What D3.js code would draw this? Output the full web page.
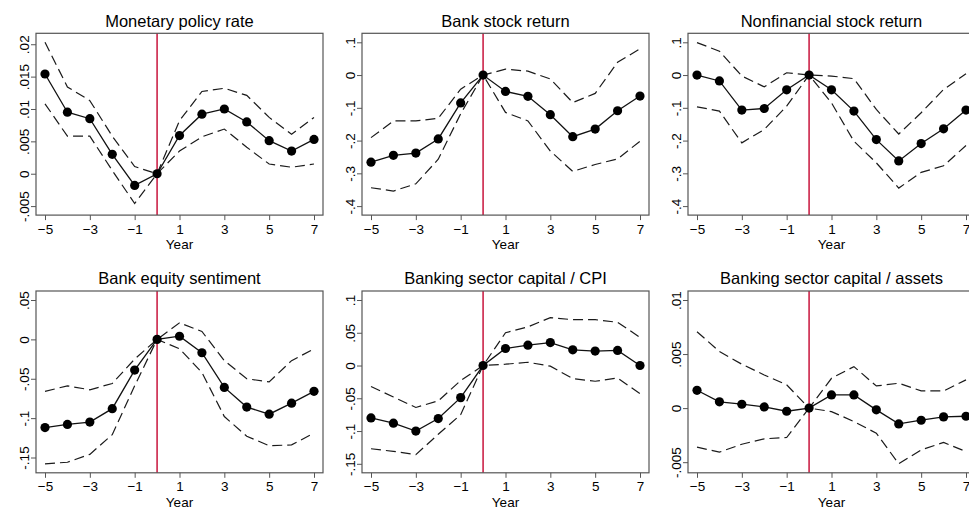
<!DOCTYPE html>
<html>
<head>
<meta charset="utf-8">
<script src="https://cdn.jsdelivr.net/npm/d3@7"></script>
<style>
  body { margin: 0; background: #fff; }
  svg { display: block; font-family: "Liberation Sans", Arial, Helvetica, sans-serif; }
</style>
</head>
<body>
<svg width="969" height="510"></svg>
<script>
// event years
let years = [-5, -4, -3, -2, -1, 0, 1, 2, 3, 4, 5, 6, 7];
let xTicks = [-5, -3, -1, 1, 3, 5, 7];

let titles = [
    'Monetary policy rate',
    'Bank stock return',
    'Nonfinancial stock return',
    'Bank equity sentiment',
    'Banking sector capital / CPI',
    'Banking sector capital / assets'
];

// point estimates
let estRate      = [0.0154, 0.0095, 0.0085, 0.0030, -0.0018, 0, 0.0059, 0.0092, 0.0100, 0.0080, 0.0051, 0.0035, 0.0053];
let estBank      = [-0.266, -0.245, -0.238, -0.195, -0.085, 0, -0.050, -0.065, -0.121, -0.188, -0.165, -0.109, -0.064];
let estNonfin    = [0.000, -0.018, -0.107, -0.102, -0.045, 0, -0.045, -0.110, -0.197, -0.262, -0.209, -0.164, -0.107];
let estSentiment = [-0.112, -0.108, -0.105, -0.088, -0.039, 0, 0.004, -0.017, -0.061, -0.086, -0.095, -0.081, -0.066];
let estCapCpi    = [-0.080, -0.088, -0.100, -0.081, -0.049, 0, 0.026, 0.031, 0.035, 0.024, 0.022, 0.023, 0.000];
let estCapAssets = [0.00165, 0.00058, 0.00036, 0.00011, -0.00029, 0, 0.00122, 0.00122, -0.00016, -0.00146, -0.00112, -0.00081, -0.00075];

// upper confidence bands
let hiRate      = [0.0203, 0.0134, 0.0113, 0.0058, 0.0011, 0, 0.0082, 0.0127, 0.0132, 0.0121, 0.0087, 0.0061, 0.0087];
let hiBank      = [-0.191, -0.140, -0.140, -0.132, -0.043, 0, 0.018, 0.012, -0.012, -0.084, -0.056, 0.039, 0.080];
let hiNonfin    = [0.099, 0.073, -0.003, -0.036, 0.007, 0, -0.003, -0.011, -0.105, -0.180, -0.115, -0.044, 0.004];
let hiSentiment = [-0.066, -0.059, -0.064, -0.056, -0.025, 0, 0.021, 0.010, -0.027, -0.050, -0.054, -0.027, -0.012];
let hiCapCpi    = [-0.032, -0.048, -0.064, -0.054, -0.023, 0, 0.050, 0.059, 0.073, 0.070, 0.070, 0.066, 0.043];
let hiCapAssets = [0.00707, 0.00523, 0.00406, 0.00307, 0.00215, 0, 0.00276, 0.00384, 0.00205, 0.00230, 0.00159, 0.00159, 0.00261];

// lower confidence bands
let loRate      = [0.0108, 0.0058, 0.0058, 0.0005, -0.0046, 0, 0.0035, 0.0057, 0.0069, 0.0041, 0.0015, 0.0010, 0.0015];
let loBank      = [-0.344, -0.354, -0.332, -0.257, -0.118, 0, -0.114, -0.140, -0.232, -0.294, -0.273, -0.256, -0.202];
let loNonfin    = [-0.097, -0.110, -0.207, -0.166, -0.095, 0, -0.085, -0.202, -0.268, -0.345, -0.297, -0.277, -0.215];
let loSentiment = [-0.158, -0.156, -0.146, -0.121, -0.059, 0, -0.012, -0.042, -0.098, -0.123, -0.135, -0.134, -0.119];
let loCapCpi    = [-0.127, -0.131, -0.136, -0.105, -0.075, 0, 0.002, 0.005, -0.001, -0.020, -0.024, -0.019, -0.043];
let loCapAssets = [-0.00361, -0.00407, -0.00334, -0.00284, -0.00272, 0, -0.00032, -0.00124, -0.00232, -0.00515, -0.00386, -0.00318, -0.00401];

// y tick values per panel
let yTicksRate      = [-0.005, 0, 0.005, 0.01, 0.015, 0.02];
let yTicksReturn    = [-0.4, -0.3, -0.2, -0.1, 0, 0.1];
let yTicksSentiment = [-0.15, -0.1, -0.05, 0, 0.05];
let yTicksCapCpi    = [-0.15, -0.1, -0.05, 0, 0.05, 0.1];
let yTicksCapAssets = [-0.005, 0, 0.005, 0.01];

let panels = [
    { est: estRate,      hi: hiRate,      lo: loRate,      ticks: yTicksRate },
    { est: estBank,      hi: hiBank,      lo: loBank,      ticks: yTicksReturn },
    { est: estNonfin,    hi: hiNonfin,    lo: loNonfin,    ticks: yTicksReturn },
    { est: estSentiment, hi: hiSentiment, lo: loSentiment, ticks: yTicksSentiment },
    { est: estCapCpi,    hi: hiCapCpi,    lo: loCapCpi,    ticks: yTicksCapCpi },
    { est: estCapAssets, hi: hiCapAssets, lo: loCapAssets, ticks: yTicksCapAssets }
];

let svg = d3.select('svg');

// plot region layout
let colLeft = [36, 362, 688];
let rowTop = [33.3, 291];
let plotW = 287;
let plotH = 181.8;
let pad = 9;

// stata style tick labels: .05 instead of 0.05
let stataFmt = v => String(+v.toFixed(6)).replace(/^(-?)0\./, '$1.');

panels.forEach(function(p, i) {
    let left = colLeft[i % 3];
    let top = rowTop[Math.floor(i / 3)];
    let g = svg.append('g').attr('transform', `translate(${left},${top})`);

    let x = d3.scaleLinear()
        .domain(d3.extent(years))
        .range([pad, plotW - pad]);

    let lo = Math.min(d3.min(p.ticks), d3.min(p.lo), d3.min(p.est));
    let hi = Math.max(d3.max(p.ticks), d3.max(p.hi), d3.max(p.est));
    let y = d3.scaleLinear()
        .domain([lo, hi])
        .range([plotH - pad, pad]);

    // reference line at event year
    g.append('line')
        .attr('x1', x(0)).attr('x2', x(0))
        .attr('y1', 0).attr('y2', plotH)
        .attr('stroke', '#c8143c')
        .attr('stroke-width', 1.5);

    let line = d3.line()
        .x((d, j) => x(years[j]))
        .y(d => y(d));

    [p.hi, p.lo].forEach(function(band) {
        g.append('path')
            .datum(band)
            .attr('d', line)
            .attr('fill', 'none')
            .attr('stroke', '#1a1a1a')
            .attr('stroke-width', 1.2)
            .attr('stroke-dasharray', '10,5');
    });

    g.append('path')
        .datum(p.est)
        .attr('d', line)
        .attr('fill', 'none')
        .attr('stroke', '#111')
        .attr('stroke-width', 1.3);

    g.selectAll('circle')
        .data(p.est)
        .enter().append('circle')
        .attr('cx', (d, j) => x(years[j]))
        .attr('cy', d => y(d))
        .attr('r', 4.6)
        .attr('fill', '#000');

    // frame
    g.append('rect')
        .attr('width', plotW).attr('height', plotH)
        .attr('fill', 'none')
        .attr('stroke', '#555')
        .attr('stroke-width', 1.2);

    // x axis
    let xAxis = g.append('g')
        .attr('transform', `translate(0,${plotH})`)
        .call(d3.axisBottom(x).tickValues(xTicks).tickSize(5).tickPadding(4).tickFormat(d3.format('d')));
    xAxis.select('.domain').remove();
    xAxis.selectAll('line').attr('stroke', '#555');
    xAxis.selectAll('text')
        .attr('font-size', 13.5)
        .attr('fill', '#000')
        .attr('font-family', null)
        .attr('dy', '0.71em');

    // y axis
    let yAxis = g.append('g')
        .call(d3.axisLeft(y).tickValues(p.ticks).tickSize(5).tickFormat(stataFmt));
    yAxis.select('.domain').remove();
    yAxis.selectAll('line').attr('stroke', '#555');
    yAxis.selectAll('text')
        .attr('font-size', 13.5)
        .attr('fill', '#000')
        .attr('font-family', null)
        .attr('x', null).attr('dy', null)
        .attr('text-anchor', 'middle')
        .attr('transform', 'translate(-7,0) rotate(-90)');

    g.append('text')
        .attr('x', plotW / 2)
        .attr('y', plotH + 34)
        .attr('text-anchor', 'middle')
        .attr('font-size', 13.5)
        .text('Year');

    g.append('text')
        .attr('x', plotW / 2)
        .attr('y', -6.7)
        .attr('text-anchor', 'middle')
        .attr('font-size', 16.5)
        .text(titles[i]);
});
</script>
</body>
</html>
